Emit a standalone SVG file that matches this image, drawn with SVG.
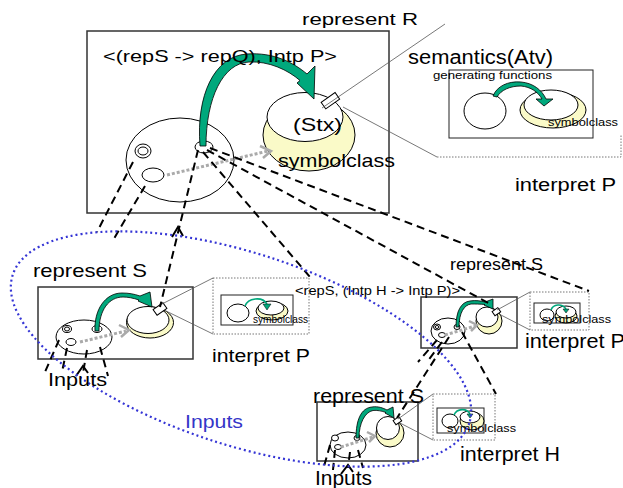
<svg xmlns="http://www.w3.org/2000/svg" width="623" height="488" viewBox="0 0 623 488">
<style>
text{font-family:"Liberation Sans",Arial,sans-serif;fill:#000}
.box{fill:#fff;stroke:#333;stroke-width:1.5}
.ibox{fill:none;stroke:#222;stroke-width:1}
.wh{fill:#fff;stroke:#000;stroke-width:1}
.yel{fill:#fafac8;stroke:#000;stroke-width:1}
.grn{fill:#00a87c;stroke:#000;stroke-width:0.8}
.grl{fill:none;stroke:#00a87c;stroke-width:1.6}
.dash{fill:none;stroke:#000;stroke-width:2;stroke-dasharray:8 5}
.chev{fill:none;stroke:#000;stroke-width:2}
.gdot{fill:none;stroke:#aaa;stroke-width:3;stroke-dasharray:3 2}
.gchev{fill:none;stroke:#aaa;stroke-width:2.5}
.thin{fill:none;stroke:#555;stroke-width:0.8}
.dotbox{fill:none;stroke:#666;stroke-width:0.9;stroke-dasharray:1.5 1.5}
.blue{fill:none;stroke:#3535d5;stroke-width:2.2;stroke-dasharray:2 3}
</style>

<g id="node-R">
<rect class="box" x="87" y="31" width="302" height="182"/>
<ellipse class="wh" cx="180" cy="160" rx="54" ry="42"/>
<ellipse class="wh" cx="143" cy="151" rx="8" ry="7"/>
<ellipse class="wh" cx="143" cy="151" rx="5" ry="4"/>
<ellipse class="wh" cx="153" cy="175" rx="11" ry="7"/>
<ellipse class="wh" cx="204" cy="147" rx="9" ry="6"/>
<ellipse class="yel" cx="309" cy="135" rx="46" ry="36"/>
<ellipse class="wh" cx="305" cy="117" rx="38" ry="24.5"/>
<path class="grn" d="M200,146 C196,96 214,56 247,54 C274,52 294,63 307,74 L315,66 L314,99 L297,83 L300,80.5 C288,70 269,61 249,62 C223,63 206,98 206,146 Z"/>
<text x="293" y="131" font-size="18" textLength="49" lengthAdjust="spacingAndGlyphs">(Stx)</text>
<rect class="wh" x="322" y="97" width="17" height="8" transform="rotate(-35 330 101)"/>
<text x="103" y="62" font-size="16.5" textLength="234" lengthAdjust="spacingAndGlyphs">&lt;(repS -&gt; repQ), Intp P&gt;</text>
<text x="278" y="167" font-size="19" textLength="117" lengthAdjust="spacingAndGlyphs">symbolclass</text>
<text x="302" y="25" font-size="17" textLength="116" lengthAdjust="spacingAndGlyphs">represent R</text>
</g>

<g id="node-semantics">
<rect class="ibox" x="449" y="70" width="144" height="68"/>
<ellipse class="wh" cx="485" cy="111" rx="21" ry="18"/>
<ellipse class="yel" cx="553" cy="110" rx="33" ry="18"/>
<ellipse class="wh" cx="551" cy="105" rx="27" ry="15"/>
<path class="grn" d="M493,96 C497,86 508,81 521,82 C533,83 542,90 546,99 L553,99 L544,106 L536,99 L542,99 C538,92 531,87 521,86 C510,86 501,90 497,97 Z"/>
<text x="408" y="64" font-size="20" textLength="145" lengthAdjust="spacingAndGlyphs">semantics(Atv)</text>
<text x="433" y="79" font-size="11" textLength="119" lengthAdjust="spacingAndGlyphs">generating  functions</text>
<text x="548" y="126" font-size="11" textLength="70" lengthAdjust="spacingAndGlyphs">symbolclass</text>
<text x="515" y="191" font-size="18" textLength="101" lengthAdjust="spacingAndGlyphs">interpret P</text>
</g>

<g id="node-S-left">
<rect class="box" x="38" y="287" width="155" height="72"/>
<ellipse class="wh" cx="84" cy="337" rx="28" ry="17"/>
<ellipse class="wh" cx="67" cy="329" rx="4.5" ry="3.5"/>
<ellipse class="wh" cx="67" cy="329" rx="2.5" ry="2"/>
<ellipse class="wh" cx="71" cy="342" rx="5" ry="3.5"/>
<ellipse class="wh" cx="97" cy="329" rx="5" ry="3.5"/>
<ellipse class="yel" cx="150" cy="322.5" rx="23.5" ry="15.5"/>
<ellipse class="wh" cx="148" cy="320" rx="21" ry="13.5"/>
<path class="grn" d="M95,331 C94,310 105,293 122,293 C129,293 134,294 140,296 L150,292 L152,307 L138,301 L139,300 C133,298 128,297 123,297 C109,297 99,310 99,331 Z"/>
<rect class="wh" x="154" y="305.5" width="12" height="7" transform="rotate(-35 160 309)"/>
<text x="33" y="277" font-size="18.5" textLength="114" lengthAdjust="spacingAndGlyphs">represent S</text>
</g>

<g id="node-interpretP-left">
<rect class="dotbox" x="213" y="278" width="96" height="56"/>
<rect class="ibox" x="221" y="295" width="72" height="30"/>
<ellipse class="wh" cx="238" cy="313" rx="11" ry="9"/>
<ellipse class="yel" cx="272" cy="311" rx="16" ry="9"/>
<ellipse class="wh" cx="271" cy="308" rx="13" ry="7"/>
<path class="grl" d="M245,306 C248,298 262,296 267,304"/>
<path d="M263,304 L271,304 L267,310 Z" fill="#00a87c" stroke="#000" stroke-width="0.5"/>
<text x="253" y="323" font-size="10" textLength="55" lengthAdjust="spacingAndGlyphs">symbolclass</text>
<text x="212" y="362" font-size="18" textLength="98" lengthAdjust="spacingAndGlyphs">interpret P</text>
</g>

<g id="node-S-right">
<rect class="box" x="421" y="297" width="96" height="51"/>
<ellipse class="wh" cx="448" cy="331" rx="17" ry="13"/>
<ellipse class="wh" cx="437" cy="327" rx="3.5" ry="3"/>
<ellipse class="wh" cx="437" cy="327" rx="1.8" ry="1.5"/>
<ellipse class="wh" cx="442" cy="335" rx="3.5" ry="2.5"/>
<ellipse class="wh" cx="457" cy="327" rx="3" ry="2.5"/>
<ellipse class="yel" cx="489" cy="321" rx="13" ry="13"/>
<ellipse class="wh" cx="487" cy="317" rx="11" ry="10"/>
<path class="grn" d="M456,327 C456,311 461,302 470,301 C476,300 481,301 485,302 L493,299 L493,309 L484,305 L485,304.5 C480,304 475,304 471,304 C464,305 459,313 459,327 Z"/>
<rect class="wh" x="493" y="309.5" width="7" height="5" transform="rotate(-35 496 312)"/>
<text x="450" y="270" font-size="16" textLength="93" lengthAdjust="spacingAndGlyphs">represent S</text>
<text x="295" y="295" font-size="13.5" textLength="165" lengthAdjust="spacingAndGlyphs">&lt;repS, (Intp H -&gt; Intp P)&gt;</text>
</g>

<g id="node-interpretP-right">
<rect class="dotbox" x="530" y="292" width="59" height="38"/>
<rect class="ibox" x="534" y="303" width="46" height="20"/>
<ellipse class="wh" cx="547" cy="315" rx="7" ry="6"/>
<ellipse class="yel" cx="566" cy="316" rx="11" ry="7"/>
<ellipse class="wh" cx="566" cy="312" rx="10" ry="6"/>
<path class="grl" d="M551,310 C553,304 562,303 566,309"/>
<path d="M563,309 L569,309 L566,313 Z" fill="#00a87c" stroke="#000" stroke-width="0.5"/>
<text x="542" y="323" font-size="11" textLength="69" lengthAdjust="spacingAndGlyphs">symbolclass</text>
<text x="525" y="348" font-size="20" textLength="100" lengthAdjust="spacingAndGlyphs">interpret P</text>
</g>

<g id="node-S-bottom">
<rect class="box" x="317" y="402" width="101" height="59"/>
<ellipse class="wh" cx="348" cy="445" rx="18" ry="13"/>
<ellipse class="wh" cx="335" cy="438" rx="3.5" ry="3"/>
<ellipse class="wh" cx="338" cy="447" rx="3.5" ry="2.5"/>
<ellipse class="wh" cx="357" cy="438" rx="3" ry="2.5"/>
<ellipse class="yel" cx="390" cy="433" rx="14" ry="14"/>
<ellipse class="wh" cx="388" cy="428" rx="11.5" ry="11.5"/>
<path class="grn" d="M356,438 C356,420 361,408 372,407 C378,406 383,408 387,410 L393,407 L394,418 L385,413 L386,412.5 C382,411 377,410 373,410.5 C365,412 359,423 359,438 Z"/>
<rect class="wh" x="394" y="418.5" width="7" height="5" transform="rotate(-35 397 421)"/>
<text x="313" y="403" font-size="20" textLength="111" lengthAdjust="spacingAndGlyphs">represent S</text>
</g>

<g id="node-interpretH">
<rect class="dotbox" x="433" y="394" width="62" height="46"/>
<rect class="ibox" x="437" y="408" width="47" height="25"/>
<ellipse class="wh" cx="450" cy="421" rx="8" ry="7"/>
<ellipse class="yel" cx="472" cy="421" rx="12" ry="9"/>
<ellipse class="wh" cx="470" cy="417" rx="10" ry="6"/>
<path class="grl" d="M454,415 C457,408 467,408 470,414"/>
<path d="M467,414 L473,414 L470,418 Z" fill="#00a87c" stroke="#000" stroke-width="0.5"/>
<text x="447" y="432" font-size="11" textLength="69" lengthAdjust="spacingAndGlyphs">symbolclass</text>
<text x="460" y="461" font-size="20" textLength="100" lengthAdjust="spacingAndGlyphs">interpret H</text>
</g>

<g id="connectors">
<path class="thin" d="M322,108 L445,24 M343,107 L437,157"/>
<path class="dotbox" d="M437,157 L621,157 L621,135"/>
<path class="thin" d="M160,305 L213,278 M166,311 L213,334"/>
<path class="thin" d="M497,310 L530,292 M499,314 L530,330"/>
<path class="thin" d="M398,419 L433,394 M400,423 L433,440"/>
<path class="gdot" d="M167,175 L268,151"/>
<path class="gchev" d="M260,146 L271,151 L263,158"/>
<path class="gdot" d="M80,342 L126,331"/>
<path class="gchev" d="M119,325 L129,330 L121,337"/>
<path class="gdot" d="M445,335 L475,326"/>
<path class="gchev" d="M469,321 L477,325 L471,331"/>
<path class="gdot" d="M341,447 L373,437"/>
<path class="gchev" d="M367,432 L375,436 L369,442"/>
<path class="dash" d="M133,162 L97,232"/>
<path class="dash" d="M145,186 L112,242"/>
<path class="dash" d="M198,150 L160,307"/>
<path class="chev" d="M172,237 L178,227 L183,236"/>
<path class="dash" d="M203,152 L310,277"/>
<path class="dash" d="M207,150 L492,305"/>
<path class="dash" d="M210,148 L589,291"/>
<path class="dash" d="M462,332 L496,394"/>
<path class="dash" d="M449,337 L397,418"/>
<path class="dash" d="M437,340 L418,362"/>
<path class="dash" d="M442,342 L427,362"/>
<path class="dash" d="M59,340 L45,372"/>
<path class="dash" d="M67,348 L62,372"/>
<path class="dash" d="M87,350 L83,373"/>
<path class="dash" d="M100,347 L108,376"/>
<path class="chev" d="M76,376 L83,366 L88,373"/>
<path class="dash" d="M330,445 L323,470"/>
<path class="dash" d="M335,450 L333,470"/>
<path class="dash" d="M350,452 L348,468"/>
<path class="dash" d="M358,450 L363,468"/>
<path class="chev" d="M341,474 L348,465 L353,472"/>
<ellipse class="blue" cx="241" cy="349" rx="240" ry="96" transform="rotate(18 241 349)"/>
</g>

<g id="labels">
<text x="48" y="386" font-size="19" textLength="59" lengthAdjust="spacingAndGlyphs">Inputs</text>
<text x="185" y="428" font-size="19" textLength="58" lengthAdjust="spacingAndGlyphs" style="fill:#3535c8">Inputs</text>
<text x="315" y="485" font-size="20" textLength="57" lengthAdjust="spacingAndGlyphs">Inputs</text>
</g>
</svg>
